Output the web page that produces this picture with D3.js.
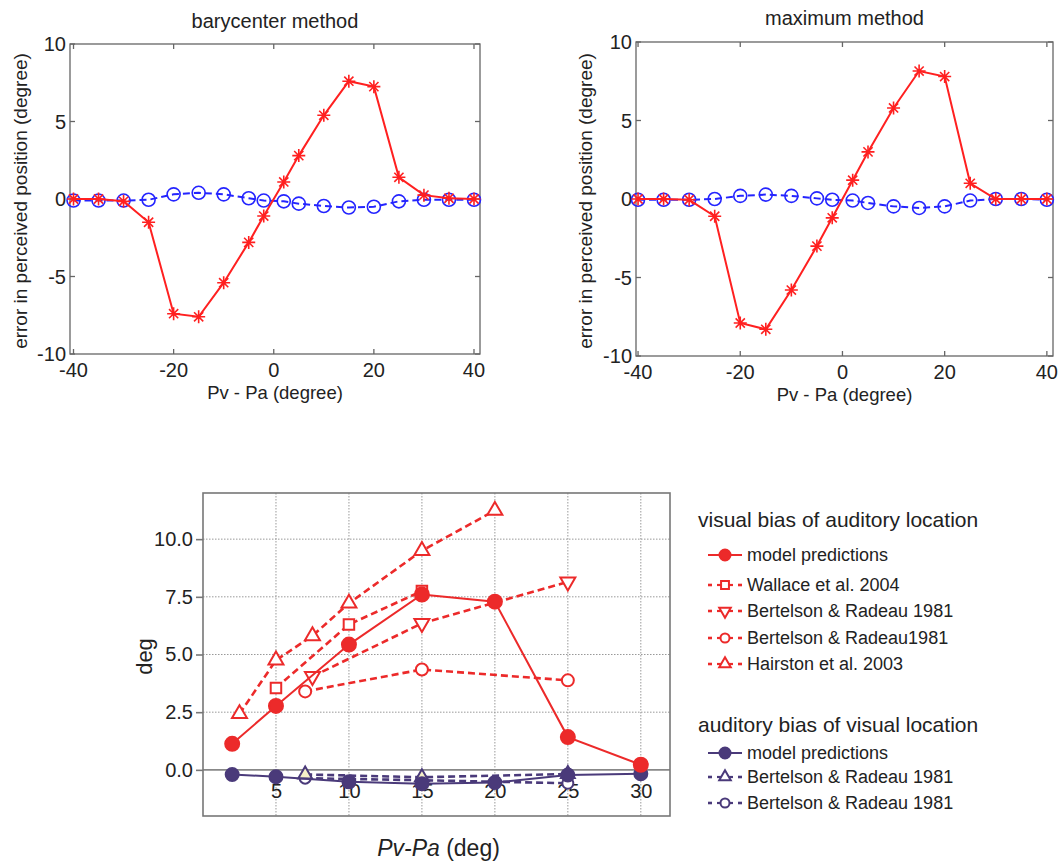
<!DOCTYPE html>
<html>
<head>
<meta charset="utf-8">
<script src="https://cdn.jsdelivr.net/npm/d3@7"></script>
<style>
  body { margin: 0; background: #fff; }
  svg { display: block; font-family: "Liberation Sans", Arial, Helvetica, sans-serif; }
</style>
</head>
<body>
<svg id="chart" width="1059" height="868"></svg>
<script>
// ---------- DATA ----------
// top panels (model simulations)
const xTop = [-40, -35, -30, -25, -20, -15, -10, -5, -2, 2, 5, 10, 15, 20, 25, 30, 35, 40];
const baryVisualBias   = [0, 0, -0.15, -1.5, -7.4, -7.6, -5.4, -2.8, -1.1, 1.1, 2.8, 5.4, 7.6, 7.25, 1.4, 0.25, 0.05, 0];
const baryAuditoryBias = [-0.1, -0.1, -0.1, -0.05, 0.3, 0.4, 0.3, 0.05, -0.1, -0.15, -0.3, -0.45, -0.55, -0.5, -0.15, -0.05, -0.05, -0.05];
const maxVisualBias    = [0, 0, -0.05, -1.1, -7.9, -8.3, -5.8, -3.0, -1.2, 1.2, 3.0, 5.8, 8.15, 7.8, 1.0, 0, 0, 0];
const maxAuditoryBias  = [-0.05, -0.05, -0.05, 0, 0.2, 0.28, 0.2, 0.04, -0.05, -0.1, -0.25, -0.47, -0.57, -0.47, -0.1, 0, 0, -0.05];
const topXTicks = [-40, -20, 0, 20, 40];
const topYTicks = [-10, -5, 0, 5, 10];
const topTitles = ["barycenter method", "maximum method"];
const topXLabel = "Pv - Pa (degree)";
const topYLabel = "error in perceived position (degree)";

// bottom panel (model vs experiments)
const modelX = [2, 5, 10, 15, 20, 25, 30];
const modelVisual   = [1.13, 2.77, 5.43, 7.6, 7.29, 1.42, 0.22];
const modelAuditory = [-0.2, -0.3, -0.52, -0.6, -0.55, -0.22, -0.17];
const wallaceX = [5, 10, 15];
const wallace  = [3.55, 6.3, 7.75];
const bertelsonAX = [7.5, 15, 25];
const bertelsonA  = [4.05, 6.35, 8.15];
const bertelsonBX = [7, 15, 25];
const bertelsonB  = [3.4, 4.35, 3.88];
const hairstonX = [2.5, 5, 7.5, 10, 15, 20];
const hairston  = [2.43, 4.75, 5.81, 7.22, 9.5, 11.24];
const audTriX = [7, 15, 25];
const audTri  = [-0.2, -0.32, -0.18];
const audCircX = [7, 15, 25];
const audCirc  = [-0.36, -0.45, -0.58];
const botXTicks = [5, 10, 15, 20, 25, 30];
const botYTicks = [0, 2.5, 5, 7.5, 10];
const legendGroup1 = "visual bias of auditory location";
const legendGroup2 = "auditory bias of visual location";
const legend1Labels = ["model predictions", "Wallace et al. 2004", "Bertelson & Radeau 1981", "Bertelson & Radeau1981", "Hairston et al. 2003"];
const legend2Labels = ["model predictions", "Bertelson & Radeau 1981", "Bertelson & Radeau 1981"];

// ---------- DRAW ----------
const svg = d3.select("#chart");
const RED_T = "#ff2020", BLUE_T = "#2424ff";
const RED = "#ec2a2a", PURPLE = "#4a3a7a";

// 8-armed MATLAB-style asterisk
function starPath(r) {
  const d = r * Math.SQRT1_2;
  return `M${-r},0L${r},0M0,${-r}L0,${r}M${-d},${-d}L${d},${d}M${-d},${d}L${d},${-d}`;
}

function topPanel(cfg) {
  const x = d3.scaleLinear().domain(cfg.xDomain).range([cfg.left, cfg.right]);
  const y = d3.scaleLinear().domain([-10, 10]).range([cfg.bottom, cfg.top]);
  const g = svg.append("g");
  const tickLen = 5;
  g.append("rect").attr("x", cfg.left).attr("y", cfg.top)
    .attr("width", cfg.right - cfg.left).attr("height", cfg.bottom - cfg.top)
    .attr("fill", "none").attr("stroke", "#666").attr("stroke-width", 1.3);
  const ax = g.append("g").attr("stroke", "#666").attr("stroke-width", 1.3);
  topXTicks.forEach(t => {
    ax.append("line").attr("x1", x(t)).attr("x2", x(t)).attr("y1", cfg.bottom).attr("y2", cfg.bottom - tickLen);
    ax.append("line").attr("x1", x(t)).attr("x2", x(t)).attr("y1", cfg.top).attr("y2", cfg.top + tickLen);
  });
  topYTicks.forEach(t => {
    ax.append("line").attr("x1", cfg.left).attr("x2", cfg.left + tickLen).attr("y1", y(t)).attr("y2", y(t));
    ax.append("line").attr("x1", cfg.right).attr("x2", cfg.right - tickLen).attr("y1", y(t)).attr("y2", y(t));
  });
  g.append("g").selectAll("text").data(topXTicks).join("text")
    .attr("x", d => x(d)).attr("y", cfg.bottom + 23)
    .attr("text-anchor", "middle").attr("font-size", 20).attr("fill", "#222")
    .text(d => d);
  g.append("g").selectAll("text").data(topYTicks).join("text")
    .attr("x", cfg.left - 4).attr("y", d => y(d)).attr("dy", "0.36em")
    .attr("text-anchor", "end").attr("font-size", 20).attr("fill", "#222")
    .text(d => d);
  g.append("text").attr("x", (cfg.left + cfg.right) / 2).attr("y", cfg.titleY)
    .attr("text-anchor", "middle").attr("font-size", 20).attr("fill", "#222").text(cfg.title);
  g.append("text").attr("x", (cfg.left + cfg.right) / 2).attr("y", cfg.xLabelY)
    .attr("text-anchor", "middle").attr("font-size", 18.5).attr("fill", "#222").text(topXLabel);
  g.append("text").attr("transform", `translate(${cfg.yLabelX},${(cfg.top + cfg.bottom) / 2 + 2}) rotate(-90)`)
    .attr("text-anchor", "middle").attr("font-size", 19).attr("fill", "#222").text(topYLabel);

  const line = d3.line().x(d => x(d[0])).y(d => y(d[1]));
  const red = xTop.map((v, i) => [v, cfg.visual[i]]);
  const blue = xTop.map((v, i) => [v, cfg.auditory[i]]);
  g.append("path").datum(blue).attr("d", line).attr("fill", "none")
    .attr("stroke", BLUE_T).attr("stroke-width", 2).attr("stroke-dasharray", "7,4");
  g.append("g").selectAll("circle").data(blue).join("circle")
    .attr("cx", d => x(d[0])).attr("cy", d => y(d[1])).attr("r", 6.5)
    .attr("fill", "none").attr("stroke", BLUE_T).attr("stroke-width", 1.6);
  g.append("path").datum(red).attr("d", line).attr("fill", "none")
    .attr("stroke", RED_T).attr("stroke-width", 2);
  g.append("g").selectAll("path").data(red).join("path")
    .attr("transform", d => `translate(${x(d[0])},${y(d[1])})`)
    .attr("d", starPath(6.5)).attr("fill", "none").attr("stroke", RED_T).attr("stroke-width", 1.6);
}

topPanel({ left: 70, right: 480, top: 44, bottom: 354, xDomain: [-40.7, 41.2],
  title: topTitles[0], titleY: 28, xLabelY: 399, yLabelX: 27,
  visual: baryVisualBias, auditory: baryAuditoryBias });
topPanel({ left: 636, right: 1053, top: 42, bottom: 356, xDomain: [-40.4, 41.2],
  title: topTitles[1], titleY: 25, xLabelY: 401, yLabelX: 592,
  visual: maxVisualBias, auditory: maxAuditoryBias });

// ---------- bottom panel ----------
const B = { left: 203, right: 670, top: 493, bottom: 816 };
const bx = d3.scaleLinear().domain([0, 32]).range([B.left, B.right]);
const by = d3.scaleLinear().domain([-2, 12]).range([B.bottom, B.top]);
const gb = svg.append("g");

gb.append("g").selectAll("line").data(botXTicks).join("line")
  .attr("x1", d => bx(d)).attr("x2", d => bx(d)).attr("y1", B.top).attr("y2", B.bottom)
  .attr("stroke", "#999").attr("stroke-width", 1).attr("stroke-dasharray", "1.5,1.5");
gb.append("g").selectAll("line").data(botYTicks.filter(d => d !== 0)).join("line")
  .attr("x1", B.left).attr("x2", B.right).attr("y1", d => by(d)).attr("y2", d => by(d))
  .attr("stroke", "#999").attr("stroke-width", 1).attr("stroke-dasharray", "1.5,1.5");
gb.append("line").attr("x1", B.left).attr("x2", B.right).attr("y1", by(0)).attr("y2", by(0))
  .attr("stroke", "#888").attr("stroke-width", 1.6);
gb.append("rect").attr("x", B.left).attr("y", B.top).attr("width", B.right - B.left)
  .attr("height", B.bottom - B.top).attr("fill", "none").attr("stroke", "#777").attr("stroke-width", 1.6);
const yAxis = d3.axisLeft(by).tickValues(botYTicks).tickSize(7).tickPadding(3).tickFormat(d3.format(".1f"));
const yg = gb.append("g").attr("transform", `translate(${B.left},0)`).call(yAxis);
yg.select(".domain").remove();
yg.selectAll(".tick line").attr("stroke", "#777").attr("stroke-width", 1.6);
yg.selectAll(".tick text").attr("font-size", 20).attr("fill", "#222").attr("font-family", "Liberation Sans, Arial, sans-serif");
const xAxis = d3.axisBottom(bx).tickValues(botXTicks).tickSize(0).tickPadding(14);
const xg = gb.append("g").attr("transform", `translate(0,${by(0)})`).call(xAxis);
xg.select(".domain").remove();
xg.selectAll(".tick text").attr("font-size", 20).attr("fill", "#222").attr("font-family", "Liberation Sans, Arial, sans-serif");

gb.append("text").attr("transform", `translate(152,${(B.top + B.bottom) / 2 + 2}) rotate(-90)`)
  .attr("text-anchor", "middle").attr("font-size", 22).attr("fill", "#222").text("deg");
const xt = gb.append("text").attr("x", (B.left + B.right) / 2 + 2).attr("y", 856)
  .attr("text-anchor", "middle").attr("font-size", 23).attr("fill", "#222");
xt.append("tspan").attr("font-style", "italic").text("Pv-Pa");
xt.append("tspan").text(" (deg)");

const bline = d3.line().x(d => bx(d[0])).y(d => by(d[1]));
const zip = (xs, ys) => xs.map((v, i) => [v, ys[i]]);

function marker(sel, shape, color, fill, size) {
  if (shape === "circle") {
    sel.append("circle").attr("r", size).attr("fill", fill).attr("stroke", color).attr("stroke-width", 2);
  } else {
    const t = shape === "square" ? d3.symbolSquare : d3.symbolTriangle;
    const area = shape === "square" ? (size * 1.75) ** 2 : size * size * 2.3;
    sel.append("path").attr("d", d3.symbol(t, area)())
      .attr("transform", shape === "tridown" ? "rotate(180)" : null)
      .attr("fill", fill).attr("stroke", color).attr("stroke-width", 2);
  }
}

function series(xs, ys, opt) {
  const data = zip(xs, ys);
  gb.append("path").datum(data).attr("d", bline).attr("fill", "none")
    .attr("stroke", opt.color).attr("stroke-width", opt.dashed ? 2.6 : 2)
    .attr("stroke-dasharray", opt.dashed ? "7,4" : null);
  gb.append("g").selectAll("g").data(data).join("g")
    .attr("transform", d => `translate(${bx(d[0])},${by(d[1])})`)
    .each(function () { marker(d3.select(this), opt.shape, opt.color, opt.fill, opt.size); });
}

series(audCircX, audCirc, { color: PURPLE, dashed: true, shape: "circle", fill: "#fff", size: 5.5 });
series(audTriX, audTri, { color: PURPLE, dashed: true, shape: "triangle", fill: "#f6f0c8", size: 6 });
series(modelX, modelAuditory, { color: PURPLE, dashed: false, shape: "circle", fill: PURPLE, size: 6.5 });
series(bertelsonBX, bertelsonB, { color: RED, dashed: true, shape: "circle", fill: "#fff", size: 6 });
series(bertelsonAX, bertelsonA, { color: RED, dashed: true, shape: "tridown", fill: "#fff", size: 6.5 });
series(hairstonX, hairston, { color: RED, dashed: true, shape: "triangle", fill: "#fff", size: 6.5 });
series(wallaceX, wallace, { color: RED, dashed: true, shape: "square", fill: "#fff", size: 6 });
series(modelX, modelVisual, { color: RED, dashed: false, shape: "circle", fill: RED, size: 7 });

// ---------- legend ----------
const lg = svg.append("g");
function legendItem(yPos, label, opt) {
  const it = lg.append("g").attr("transform", `translate(725,${yPos})`);
  if (opt.dashed) {
    it.append("line").attr("x1", -17).attr("x2", -13).attr("stroke", opt.color).attr("stroke-width", 2.6);
    it.append("line").attr("x1", 13).attr("x2", 17).attr("stroke", opt.color).attr("stroke-width", 2.6);
    it.append("line").attr("x1", -8).attr("x2", 8).attr("stroke", opt.color).attr("stroke-width", 2.2);
  } else {
    it.append("line").attr("x1", -17).attr("x2", 17).attr("stroke", opt.color).attr("stroke-width", 2);
  }
  marker(it, opt.shape, opt.color, opt.fill, opt.size);
  it.append("text").attr("x", 22).attr("dy", "0.35em").attr("font-size", 18).attr("fill", "#222").text(label);
}
lg.append("text").attr("x", 698).attr("y", 520).attr("dy", "0.35em").attr("font-size", 21).attr("fill", "#222").text(legendGroup1);
const leg1Opts = [
  { color: RED, dashed: false, shape: "circle", fill: RED, size: 5.5 },
  { color: RED, dashed: true, shape: "square", fill: "#fff", size: 4.5 },
  { color: RED, dashed: true, shape: "tridown", fill: "#fff", size: 5 },
  { color: RED, dashed: true, shape: "circle", fill: "#fff", size: 4.5 },
  { color: RED, dashed: true, shape: "triangle", fill: "#fff", size: 5 }
];
const leg1Y = [555, 585, 611, 638, 664];
legend1Labels.forEach((l, i) => legendItem(leg1Y[i], l, leg1Opts[i]));
lg.append("text").attr("x", 698).attr("y", 725).attr("dy", "0.35em").attr("font-size", 21).attr("fill", "#222").text(legendGroup2);
const leg2Opts = [
  { color: PURPLE, dashed: false, shape: "circle", fill: PURPLE, size: 5.5 },
  { color: PURPLE, dashed: true, shape: "triangle", fill: "#fff", size: 5 },
  { color: PURPLE, dashed: true, shape: "circle", fill: "#fff", size: 4.5 }
];
const leg2Y = [753, 777, 803];
legend2Labels.forEach((l, i) => legendItem(leg2Y[i], l, leg2Opts[i]));
</script>
</body>
</html>
